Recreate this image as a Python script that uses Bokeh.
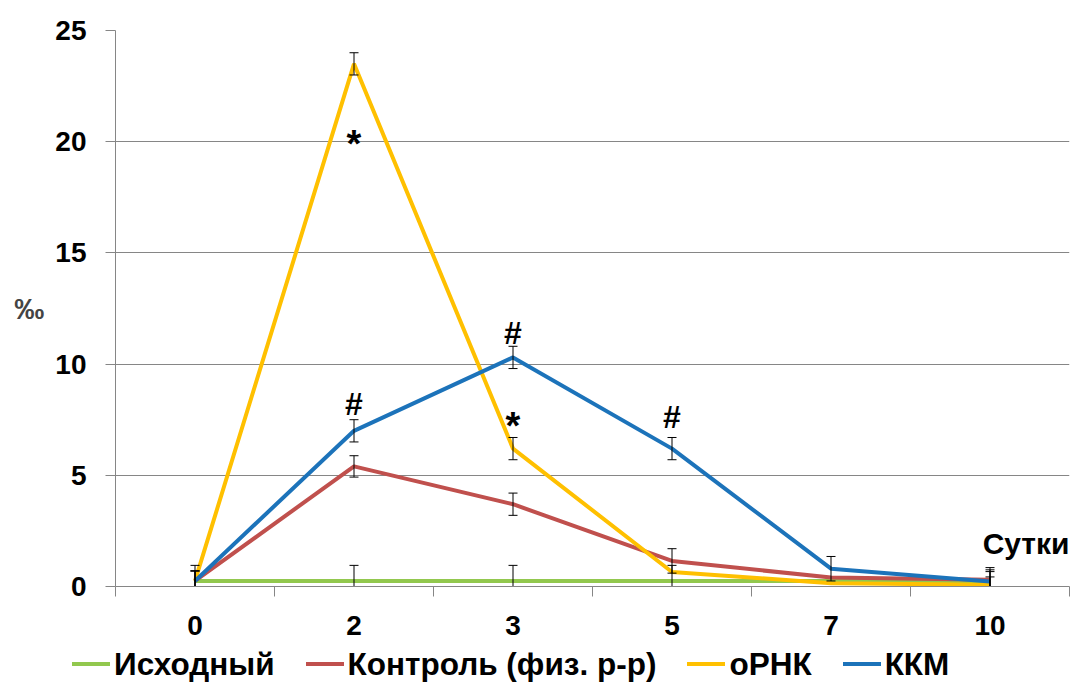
from bokeh.plotting import figure
from bokeh.layouts import column
from bokeh.models import (ColumnDataSource, FixedTicker, Label, Range1d, Div)
from bokeh.core.properties import value
from bokeh.embed import file_html
from bokeh.resources import INLINE

# ---- data ----
days = ["0", "2", "3", "5", "7", "10"]
series_names = ["Исходный", "Контроль (физ. р-р)", "оРНК", "ККМ"]
ishodny = [0.25, 0.25, 0.25, 0.25, 0.25, 0.25]
kontrol = [0.25, 5.4, 3.7, 1.15, 0.4, 0.3]
orna = [0.25, 23.5, 6.2, 0.65, 0.15, 0.08]
kkm = [0.25, 7.0, 10.3, 6.2, 0.8, 0.22]
ishodny_err = [0.7, 0.7, 0.7, 0.7, 0.0, 0.5]
kontrol_err = [0.45, 0.48, 0.5, 0.55, 0.0, 0.55]
orna_err = [0.45, 0.5, 0.5, 0.0, 0.0, 0.35]
kkm_err = [0.45, 0.5, 0.5, 0.5, 0.55, 0.45]
ann_day = ["2", "2", "3", "3", "5"]
ann_y = [19.9, 8.2, 11.4, 7.2, 7.6]
ann_text = ["*", "#", "#", "*", "#"]
y_ticks = [0, 5, 10, 15, 20, 25]
x_title = "Сутки"
y_title = "‰"

colors = ["#92C84E", "#C0504D", "#FFC000", "#1C73BA"]
FONT = "Liberation Sans"

xs = list(range(len(days)))

p = figure(width=1077, height=640, output_backend="svg", toolbar_location=None,
           x_range=Range1d(-0.5, len(days) - 0.5), y_range=Range1d(0, 25),
           min_border_left=115, min_border_right=8, min_border_top=30,
           min_border_bottom=54)
p.outline_line_color = None
p.background_fill_color = "white"
p.border_fill_color = "white"

# axes
p.xaxis.ticker = FixedTicker(ticks=xs, minor_ticks=[i - 0.5 for i in range(len(days) + 1)])
p.xaxis.major_label_overrides = {i: d for i, d in enumerate(days)}
p.xaxis.major_tick_in = 0
p.xaxis.major_tick_out = 0
p.xaxis.minor_tick_in = 0
p.xaxis.minor_tick_out = 10
p.xaxis.minor_tick_line_color = "#868686"
p.xaxis.axis_line_color = "#868686"
p.xaxis.major_label_standoff = 19

p.yaxis.ticker = FixedTicker(ticks=y_ticks)
p.yaxis.major_tick_in = 0
p.yaxis.major_tick_out = 10
p.yaxis.major_tick_line_color = "#868686"
p.yaxis.axis_line_color = "#868686"
p.yaxis.minor_tick_line_color = None
p.yaxis.major_label_standoff = 19
p.yaxis.axis_label = y_title
p.yaxis.axis_label_orientation = "horizontal"
p.yaxis.axis_label_text_font = FONT
p.yaxis.axis_label_text_font_style = "bold"
p.yaxis.axis_label_text_font_size = "30px"
p.yaxis.axis_label_standoff = 8

for ax in (p.xaxis, p.yaxis):
    ax.major_label_text_font = FONT
    ax.major_label_text_font_style = "bold"
    ax.major_label_text_font_size = "28px"
    ax.major_label_text_color = "black"

p.xgrid.grid_line_color = None
p.ygrid.grid_line_color = "#868686"
p.ygrid.grid_line_width = 1

# series
all_vals = [ishodny, kontrol, orna, kkm]
all_errs = [ishodny_err, kontrol_err, orna_err, kkm_err]
for vals, col in zip(all_vals, colors):
    src = ColumnDataSource(dict(x=xs, y=vals))
    p.line("x", "y", source=src, line_color=col, line_width=4)

for vals, errs in zip(all_vals, all_errs):
    ex = [x for x, e in zip(xs, errs) if e > 0]
    lo = [v - e for v, e in zip(vals, errs) if e > 0]
    hi = [v + e for v, e in zip(vals, errs) if e > 0]
    esrc = ColumnDataSource(dict(x=ex, lo=lo, hi=hi))
    p.segment(x0="x", y0="lo", x1="x", y1="hi", source=esrc, line_color="black", line_width=1)
    p.scatter(x="x", y="lo", source=esrc, marker="dash", size=9, line_color="black", line_width=1)
    p.scatter(x="x", y="hi", source=esrc, marker="dash", size=9, line_color="black", line_width=1)

# annotations
ann_size = ["38px" if t == "*" else "32px" for t in ann_text]
asrc = ColumnDataSource(dict(x=[days.index(d) for d in ann_day], y=ann_y, t=ann_text, s=ann_size))
p.text(x="x", y="y", text="t", source=asrc, text_align="center", text_baseline="middle",
       text_font=value(FONT), text_font_style="bold", text_font_size="s", text_color="black")

p.add_layout(Label(x=len(days) - 0.5, y=1.95, text=x_title, text_align="right",
                   text_baseline="middle", x_offset=0, text_font=FONT,
                   text_font_style="bold", text_font_size="30px", text_color="black"))

# legend strip below the chart
item_html = "".join(
    f'<span style="display:inline-block;width:38px;height:4px;background:{c};'
    f'margin-right:4px;vertical-align:middle;"></span>'
    f'<span style="margin-right:31px;vertical-align:middle;">{n}</span>'
    for n, c in zip(series_names, colors))
legend_div = Div(
    text=(f'<div style="padding-left:72px;padding-top:4px;white-space:nowrap;'
          f"font-family:'{FONT}';font-weight:bold;font-size:31.5px;line-height:34px;"
          f'color:black;">{item_html}</div>'),
    width=1077, height=43, margin=0)

layout = column(p, legend_div, spacing=0)
open("out.html", "w").write(file_html(layout, INLINE))
